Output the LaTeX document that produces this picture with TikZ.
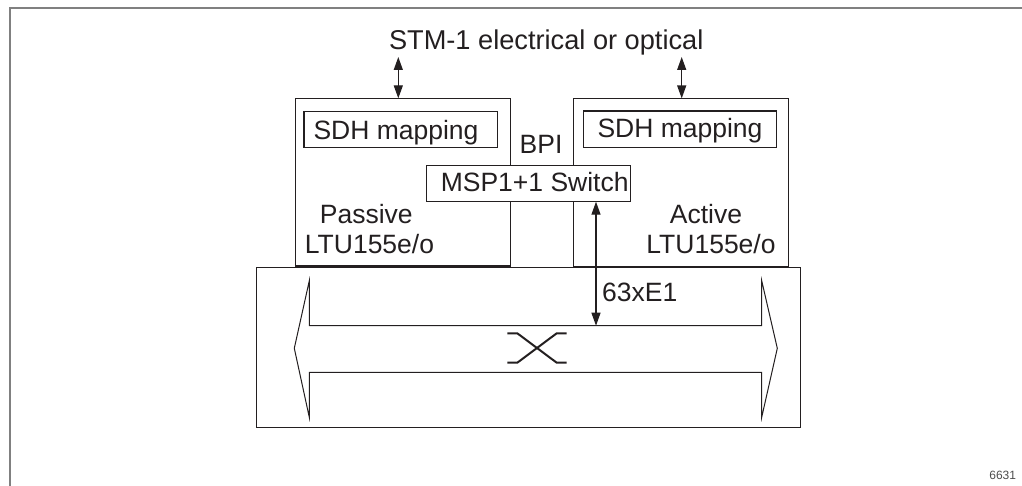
\documentclass[tikz,border=0pt]{standalone}
\usepackage{fontspec}
\setmainfont{Liberation Sans}
\usetikzlibrary{arrows.meta}
\definecolor{ink}{HTML}{231F20}
\definecolor{framegray}{HTML}{808080}
\begin{document}
\begin{tikzpicture}[x=1pt,y=-1pt,
  box/.style={draw=ink, line width=1.3pt, rectangle, inner sep=0pt, outer sep=0pt},
  lbl/.style={text=ink, font=\fontsize{26.5}{30}\selectfont, inner sep=0pt, anchor=base},
  dblarrow/.style={draw=ink, line width=1.3pt, {Triangle[length=13pt,width=9pt]}-{Triangle[length=13pt,width=9pt]}},
  bracket/.style={draw=ink, line width=1pt, line join=miter},
  xsym/.style={draw=ink, line width=2pt},
  framestyle/.style={draw=framegray, line width=2pt}]
\useasboundingbox (0,0) rectangle (1022,486);
\draw[framestyle] (1022,8) -- (9.5,8) -- (9.5,486);

% boxes
\node[box, minimum width=214.8pt, minimum height=167.7pt] (pbox) at (403.1,182.2) {};
\node[box, minimum width=215pt, minimum height=168pt] (abox) at (680.8,182.4) {};
\node[box, minimum width=544pt, minimum height=160pt] (bigbox) at (528.7,347.7) {};
\node[box, minimum width=193.3pt, minimum height=35.6pt] (sdhp) at (400.65,129.5) {};
\node[box, minimum width=193.4pt, minimum height=36.7pt] (sdha) at (680,129.35) {};
\node[box, fill=white, minimum width=204.4pt, minimum height=36.4pt] (msp) at (528.5,183.5) {};

% labels
\node[lbl, font=\fontsize{27.2}{30}\selectfont] (stm) at (546.2,50) {STM-1 electrical or optical};
\node[lbl] (sdhpt) at (396,139.3) {SDH mapping};
\node[lbl] (sdhat) at (680,138) {SDH mapping};
\node[lbl] (bpi) at (541,153.3) {BPI};
\node[lbl] (mspt) at (534.7,192) {MSP1+1 Switch};
\node[lbl] (pas) at (366.3,223.3) {Passive};
\node[lbl] (ltup) at (369.5,253.3) {LTU155e/o};
\node[lbl] (act) at (706,223.3) {Active};
\node[lbl] (ltua) at (711,253.3) {LTU155e/o};
\node[lbl] (e1) at (639.7,301.7) {63xE1};
\node[lbl, text=framegray!60!black, font=\fontsize{12}{14}\selectfont] (num) at (1002.7,479.3) {6631};

% STM arrows
\coordinate (stmL) at (398.3,57);
\coordinate (stmR) at (681.7,57);
\draw[dblarrow] (stmL) -- (stmL |- pbox.north);
\draw[dblarrow] (stmR) -- (stmR |- abox.north);

% cross-connect bracket
\coordinate (bu) at (596,325.7);
\draw[bracket] (309.3,325.7) -- (761.7,325.7) -- (761.7,280.7) -- (777.3,348.3)
  -- (761.7,417.3) -- (761.7,372.3) -- (309.3,372.3) -- (309.3,417.3)
  -- (294.3,348.3) -- (309.3,280.7) -- cycle;
\draw[dblarrow] (bu |- msp.south) -- (bu);

% crossing symbol
\draw[xsym] (507.3,333.3) -- (517.3,333.3) -- (556.7,362.7) -- (566.7,362.7);
\draw[xsym] (507.3,362.7) -- (517.3,362.7) -- (556.7,333.3) -- (566.7,333.3);
\end{tikzpicture}
\end{document}
